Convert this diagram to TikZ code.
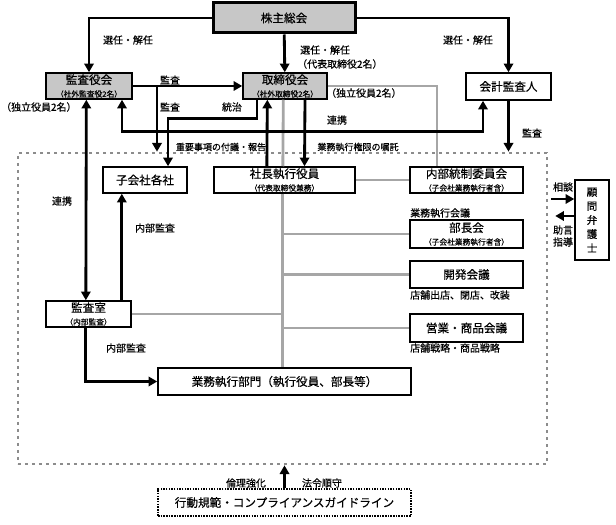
\documentclass[tikz,border=0pt]{standalone}
\usepackage{fontspec}
\setmainfont{Noto Sans CJK JP}[FakeBold=0.5]
\usetikzlibrary{arrows.meta}
\newcommand{\smalltxt}[1]{{\fontsize{6.6}{7.5}\selectfont #1}}
\tikzset{
  box/.style={draw, line width=0.45mm, fill=white, inner sep=0pt, align=center, font=\fontsize{9.9}{11}\selectfont},
  gbox/.style={box, fill=black!22},
  frame/.style={draw=black!45, line width=0.8mm, dash pattern=on 0.8mm off 1.3mm},
  arr/.style={line width=0.85mm, -{Triangle[length=2.6mm,width=2.8mm]}},
  dbl/.style={line width=0.85mm, {Triangle[length=2.6mm,width=2.8mm]}-{Triangle[length=2.6mm,width=2.8mm]}},
  gline/.style={line width=0.85mm, color=black!35},
  lbl/.style={inner sep=0pt, font=\fontsize{8.5}{10}\selectfont},
  lblsmall/.style={inner sep=0pt, font=\fontsize{7.7}{9}\selectfont}
}

\begin{document}
\begin{tikzpicture}[x=0.3mm,y=-0.3mm]
			\useasboundingbox (0,0) rectangle (616,525);
			%%%%% FRAME %%%%%
			\node[frame, minimum width=158.7mm, minimum height=93.3mm] (frame) at (282.5,308.5) {};
			
			%%%%% BOXES %%%%%
			\node[gbox, line width=0.9mm, minimum width=42.6mm, minimum height=9mm] (soukai) at (284,18) {株主総会};
			\node[gbox, minimum width=25.8mm, minimum height=7.8mm] (kansayaku) at (89,86) {監査役会\\\smalltxt{（社外監査役2名）}};
			\node[gbox, minimum width=25.2mm, minimum height=7.8mm] (torishimari) at (285,86) {取締役会\\\smalltxt{（社外取締役2名）}};
			\node[box, minimum width=25.5mm, minimum height=8.1mm] (kaikei) at (508.5,86.5) {会計監査人};
			\node[box, minimum width=25.2mm, minimum height=7.8mm] (kogaisha) at (145,180) {子会社各社};
			\node[box, minimum width=42.3mm, minimum height=7.8mm] (shacho) at (284.5,180) {社長執行役員\\\smalltxt{（代表取締役兼務）}};
			\node[box, minimum width=33.9mm, minimum height=7.8mm] (naibu) at (466.5,180) {内部統制委員会\\\smalltxt{（子会社業務執行者含）}};
			\node[box, minimum width=33.9mm, minimum height=8.4mm] (buchokai) at (466.5,234) {部長会\\\smalltxt{（子会社業務執行者含）}};
			\node[box, minimum width=33.9mm, minimum height=8.1mm] (kaihatsu) at (466.5,274.5) {開発会議};
			\node[box, minimum width=33.9mm, minimum height=8.4mm] (eigyo) at (466.5,328) {営業・商品会議};
			\node[box, minimum width=25.5mm, minimum height=7.8mm] (kansashitsu) at (88.5,314) {監査室\\\smalltxt{（内部監査）}};
			\node[box, minimum width=75.9mm, minimum height=8.1mm] (gyomu) at (284.5,381.5) {業務執行部門（執行役員、部長等）};
			\node[box, densely dotted, line width=0.4mm, minimum width=75.9mm, minimum height=8.1mm] (kodo) at (284.5,502.5) {行動規範・コンプライアンスガイドライン};
			\node[box, font=\fontsize{9}{12}\selectfont, minimum width=10.2mm, minimum height=24mm] (komon) at (592,220) {顧\\問\\弁\\護\\士};
			
			%%%%% LABELS %%%%%
			\node[lbl] (senA) at (128,40) {選任・解任};
			\node[lbl, anchor=west] (senB) at (300,50) {選任・解任};
			\node[lbl, anchor=west] (daihyo) at (297,64) {（代表取締役2名）};
			\node[lbl] (senC) at (468,40) {選任・解任};
			\node[lbl] (kansaA) at (170,80) {監査};
			\node[lbl] (kansaB) at (170,107) {監査};
			\node[lbl] (touchi) at (232,107) {統治};
			\node[lbl, anchor=west] (dokuA) at (1,107) {（独立役員2名）};
			\node[lbl, anchor=west] (dokuB) at (326,93) {（独立役員2名）};
			\node[lbl] (renkeiA) at (337,120) {連携};
			\node[lblsmall] (fugi) at (221,147) {重要事項の付議・報告};
			\node[lblsmall] (ishoku) at (358,147) {業務執行権限の嘱託};
			\node[lbl] (kansaC) at (532,133) {監査};
			\node[lbl] (renkeiB) at (62,201) {連携};
			\node[lbl] (naibuA) at (155,228) {内部監査};
			\node[lbl] (naibuB) at (126,348) {内部監査};
			\node[lbl, anchor=west] (kaigi) at (410,213) {業務執行会議};
			\node[lbl, anchor=west] (tenpoA) at (410,295) {店舗出店、閉店、改装};
			\node[lbl, anchor=west] (tenpoB) at (410,348) {店舗戦略・商品戦略};
			\node[lbl] (sodan) at (563,187) {相談};
			\node[lbl] (jogen) at (563,230) {助言};
			\node[lbl] (shido) at (563,242) {指導};
			\node[lbl] (rinri) at (246,483) {倫理強化};
			\node[lbl] (horei) at (322,483) {法令順守};
			
			%%%%% GRAY LINES %%%%%
			\coordinate (spine) at ([xshift=-0.5mm]shacho.south);
			\draw[gline] ([xshift=-0.5mm]torishimari.south) -- ([xshift=-0.5mm]shacho.north);
			\draw[gline] (spine) -- (spine |- gyomu.north);
			\draw[gline] (torishimari.east) -| ([xshift=-8.85mm]naibu.north);
			\draw[gline] (shacho.east) -- (naibu.west);
			\draw[gline] (spine |- buchokai.west) -- (buchokai.west);
			\draw[gline] (spine |- kaihatsu.west) -- (kaihatsu.west);
			\draw[gline] (spine |- eigyo.west) -- (eigyo.west);
			\draw[gline] (kansashitsu.east) -- (spine |- kansashitsu.east);
			
			%%%%% ARROWS %%%%%
			\draw[arr] (soukai.west) -| (kansayaku.north);
			\draw[arr] (soukai) -- (torishimari);
			\draw[arr] (soukai.east) -| (kaikei.north);
			\draw[arr] (kaikei.south) -- (kaikei.south |- frame.north);
			\draw[arr] (kansayaku.east) -- (torishimari.west);
			\coordinate (kbr) at (157,86);
			\draw[arr] (kbr) -- (kbr |- frame.north);
			\draw[arr] ([xshift=-8.4mm]torishimari.south) -- ++(0,19) -| ([xshift=6.9mm]kogaisha.north);
			\draw[dbl] ([xshift=9.9mm]kansayaku.south) -- ++(0,32) -| ([xshift=-7.65mm]kaikei.south);
			\draw[arr] ([xshift=-5.3mm]shacho.north) -- ([xshift=-5.3mm]torishimari.south);
			\draw[arr] ([xshift=6mm]torishimari.south) -- ([xshift=6mm]shacho.north);
			\draw[dbl] ([xshift=-0.8mm]kansayaku.south) -- ([xshift=-0.8mm]kansashitsu.north);
			\coordinate (ia) at ([xshift=10mm]kansashitsu.north);
			\draw[arr] (ia) -- (ia |- kogaisha.south);
			\draw[arr] ([xshift=-0.8mm]kansashitsu.south) |- (gyomu.west);
			\coordinate (c1) at ([yshift=6.3mm]komon.west);
			\coordinate (c2) at ([yshift=1.2mm]komon.west);
			\draw[arr] ([xshift=-6.9mm]c1) -- (c1);
			\draw[arr] (c2) -- ++(-19,0);
			\draw[arr] (kodo.north) -- (kodo.north |- frame.south);
			
		\end{tikzpicture}
\end{document}
